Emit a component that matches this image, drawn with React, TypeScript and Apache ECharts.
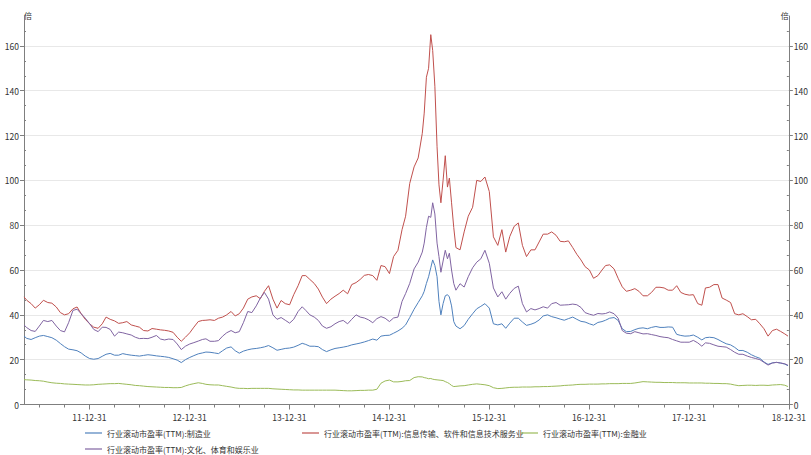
import React, { useEffect, useRef } from 'react';
import * as echarts from 'echarts';

// ---------- data ----------
const SERIES_NAMES = [
  '行业滚动市盈率(TTM):制造业',
  '行业滚动市盈率(TTM):信息传输、软件和信息技术服务业',
  '行业滚动市盈率(TTM):金融业',
  '行业滚动市盈率(TTM):文化、体育和娱乐业',
];
const COLORS = ['#4f81bd', '#c0504d', '#9bbb59', '#8064a2'];

const pad = (n: number) => (n < 10 ? '0' + n : '' + n);

// sampling dates: 1st & 16th of each month (weekly-ish in the May–Aug 2015 spike)
const DATES: string[] = [];
for (let y = 2011; y <= 2018; y++) {
  for (let m = y === 2011 ? 5 : 1; m <= 12; m++) {
    const days = y === 2015 && m >= 5 && m <= 8 ? [1, 8, 16, 24] : [1, 16];
    for (const d of days) {
      const dd = y === 2011 && m === 5 && d === 1 ? 6 : d;
      DATES.push(`${y}-${pad(m)}-${pad(dd)}`);
    }
  }
}
DATES.push('2018-12-28');

// 制造业
const MANUFACTURING = [
  30.5, 29.5, 29, 29.8, 30.5, 30.8, 30.3, 29.8, 28.7, 27.2, 25.8, 24.7, 24.4, 24, 23, 21.6,
  20.5, 20.2, 20.5, 21.5, 22.4, 22.8, 22, 22, 22.7, 22.3, 22, 21.8, 21.6, 21.9, 22.2, 22, 21.7, 21.5, 21.3, 21, 20.4, 19.8, 18.7, 20,
  21, 21.8, 22.6, 23, 23.4, 23.3, 23, 22.7, 24, 25.2, 25.7, 24, 22.9, 23.8, 24.4, 24.8, 25, 25.3, 25.7, 26.3, 25.3, 24.2, 24.6, 25,
  25.2, 25.6, 26.4, 27.3, 26.8, 26, 26, 25.8, 24.5, 23.6, 24.4, 25, 25.3, 25.6, 26, 26.6, 27, 27.4, 27.9, 28.5, 29.2, 28.7, 30.5, 30.8,
  30.9, 31.8, 32.8, 34, 35.5, 38.8, 42.5, 45.5, 48.5, 50.5, 54, 57, 61, 64.5, 62, 57, 46, 40, 45, 48.5, 49, 48, 44, 37, 35, 33.8, 35.2, 38, 40.5, 42.7, 43.8, 45,
  43, 36, 35.5, 36, 34, 36.3, 38.5, 38.5, 36.8, 35.3, 35.8, 36.5, 37.7, 39.5, 40, 39.2, 38.7, 38.1, 37.6, 38.3, 39, 38, 37.1, 36.8,
  36, 35.4, 36.6, 37, 37.6, 38.5, 38.8, 37.5, 33.8, 32.5, 32.6, 33.4, 34, 34.2, 33.8, 34.4, 34.8, 34.4, 34.4, 34.6, 34.5, 31.3, 30.8, 30.5,
  30.6, 31, 30, 28.8, 29.8, 30, 29.8, 29, 28, 27.1, 26.6, 25.5, 24.1, 24.1, 23.3, 22.2, 21.3, 20.6, 19, 17.9, 18.6, 18.8, 18.5, 18, 17.3,
];

// 信息传输、软件和信息技术服务业
const IT_SERVICES = [
  48, 46.5, 45, 43, 44.5, 46.5, 45.5, 45.2, 43.5, 41, 40, 40.5, 42.7, 43.5, 40.5, 38,
  36, 34.5, 34, 36, 39, 38, 37.3, 36.2, 36.5, 37, 35.5, 35, 34.5, 33, 32.8, 33.9, 33.6, 33.3, 33.1, 32.8, 32.2, 30, 28.2, 30,
  32, 34.5, 37, 37.5, 37.6, 37.8, 37.5, 38.5, 39, 40, 41.5, 39.5, 40.5, 43, 47, 48, 48.5, 47.2, 50.5, 53, 47, 43, 46.4, 45,
  44.5, 49, 53, 57.5, 57.5, 55.8, 54, 51.5, 47.9, 45, 47, 48.3, 49.5, 51, 49.4, 53.5, 54.4, 55.8, 57.6, 58, 57.5, 55.4, 62, 61.5,
  58.4, 66, 68.8, 78, 84, 98.6, 106, 110, 121, 130, 146, 150, 165, 158, 142, 115, 98, 90, 100, 111, 97, 101, 90, 79, 70, 69, 77, 84, 88, 100, 99.5, 101.5,
  95, 74.8, 71, 78, 68, 75, 79.5, 81, 71, 66, 69, 69, 72.5, 76, 76, 77, 75.5, 72.8, 72.6, 73, 70, 67, 64.5, 61.5,
  60, 56.3, 57.5, 60, 62, 62.3, 60.5, 56.3, 52.5, 50.5, 51, 51.7, 50.5, 48.5, 48.5, 50, 52.3, 52.3, 52, 51, 51, 53, 50, 49.2,
  48.8, 49, 45, 44.3, 52, 52.3, 53.5, 53.5, 47.5, 46.6, 45.5, 40.5, 40, 40.5, 39.2, 37.8, 38, 36, 33.8, 30.5, 33, 33.6, 32.6, 31.5, 30.5,
];

// 金融业
const FINANCE = [
  11.1, 11, 10.9, 10.7, 10.6, 10.4, 10, 9.7, 9.5, 9.4, 9.2, 9.1, 9, 8.9, 8.8, 8.7,
  8.7, 8.8, 9, 9.1, 9.2, 9.3, 9.3, 9.4, 9.2, 9, 8.8, 8.5, 8.4, 8.2, 8, 7.9, 7.8, 7.7, 7.6, 7.6, 7.5, 7.5, 7.6, 8.3,
  8.9, 9.3, 9.7, 9.4, 9, 8.8, 8.7, 8.7, 8.4, 8.1, 7.8, 7.4, 7.2, 7.2, 7.1, 7.2, 7.2, 7.2, 7.2, 7.2, 7, 6.9, 6.8, 6.7,
  6.6, 6.5, 6.5, 6.4, 6.4, 6.4, 6.4, 6.4, 6.4, 6.4, 6.4, 6.4, 6.3, 6.2, 6.1, 6.1, 6.2, 6.3, 6.3, 6.4, 6.4, 6.8, 9.5, 10.5,
  10.9, 10.1, 10.1, 10.3, 10.6, 10.7, 12, 12.4, 12.3, 12, 11.8, 11.5, 11.6, 11.3, 11.1, 11, 10.9, 10.8, 10.7, 10.2, 9.8, 9.3, 8.5, 8, 8.1, 8.3, 8.4, 8.7, 9, 9.2, 9, 8.8,
  8.4, 7.5, 7.1, 7.2, 7.4, 7.6, 7.7, 7.7, 7.8, 7.8, 7.8, 7.9, 7.9, 8, 8, 8.1, 8.2, 8.3, 8.5, 8.6, 8.7, 8.9, 9, 9,
  9.1, 9.1, 9.1, 9.2, 9.2, 9.3, 9.3, 9.3, 9.4, 9.4, 9.4, 9.6, 9.9, 10.2, 10.1, 10, 9.9, 9.9, 9.8, 9.8, 9.8, 9.7, 9.7, 9.7,
  9.6, 9.6, 9.6, 9.6, 9.5, 9.5, 9.4, 9.4, 9.3, 9.3, 9.1, 8.7, 8.4, 8.5, 8.6, 8.6, 8.5, 8.6, 8.6, 8.5, 8.7, 8.8, 8.9, 8.6, 8.0,
];

// 文化、体育和娱乐业
const CULTURE = [
  35.5, 34.3, 33, 32.6, 35, 37.5, 37, 37.5, 35, 33, 32.4, 36.5, 42, 42.5, 40.5, 38.5,
  36, 33.5, 32.5, 34.5, 34.4, 33.5, 30.5, 32.3, 32, 31.5, 31, 30, 29.4, 29.5, 29.4, 30, 30.8, 29.2, 28.8, 29.2, 29, 27, 24.5, 26,
  27, 27.6, 28.3, 29, 29.3, 28.2, 28.2, 28.5, 30.5, 32, 33, 32, 32.5, 36.5, 41.5, 41, 44, 47.5, 50, 47, 40, 38, 38.8, 37.6,
  36.3, 38, 41.5, 43.6, 42, 40, 39, 37.5, 35, 34, 34.7, 36, 37, 37.5, 36, 38, 40, 39, 38.6, 37.8, 36.5, 38.3, 39.2, 38.5,
  37, 38.6, 39, 46, 49.5, 54, 60.5, 63.5, 68, 72, 79, 84, 83.5, 90, 85, 72, 66, 59, 64, 68.8, 65, 67.5, 60, 54, 51, 53.9, 52.4, 57, 61, 63.5, 65, 68.8,
  63, 52, 48, 50.3, 47, 49.6, 51.8, 52.8, 45, 41.3, 42.8, 42.2, 42.8, 43.6, 43, 45, 45.5, 44.3, 44.4, 44.5, 44.8, 44.5, 43.3, 41,
  40.3, 39.8, 40.6, 40.4, 40.6, 41.3, 40.5, 38.5, 33, 31.8, 31.6, 32.5, 32, 31.5, 31.6, 31.2, 30.8, 30.3, 30, 29.8, 29, 28.4, 27.8, 27.8,
  27.8, 28.6, 27.5, 26, 27.5, 27.3, 26.6, 26, 25.8, 25.6, 24.5, 23.3, 22.4, 22.4, 21.6, 21, 20.5, 20, 18.8, 17.6, 18.5, 18.8, 18.5, 18.2, 17.5,
];

const SERIES_VALUES = [MANUFACTURING, IT_SERVICES, FINANCE, CULTURE];

const X_MIN_DATE = '2011-05-06';
const X_MAX_DATE = '2018-12-31';
const X_MAJOR_DATES = ['2011-12-31', '2012-12-31', '2013-12-31', '2014-12-31', '2015-12-31', '2016-12-31', '2017-12-31', '2018-12-31'];
const X_MINOR_DATES: string[] = ['2011-06-30', '2011-09-30'];
for (let y = 2012; y <= 2018; y++) X_MINOR_DATES.push(`${y}-03-31`, `${y}-06-30`, `${y}-09-30`);

const Y_MAX = 173.33;
const Y_TICKS = [0, 20, 40, 60, 80, 100, 120, 140, 160];
const Y_MINOR_TICKS: number[] = [];
for (let k = 1; k <= 26; k++) if (k % 3 !== 0) Y_MINOR_TICKS.push((k * 20) / 3);

// ---------- helpers ----------
const ts = (s: string) => Date.UTC(+s.slice(0, 4), +s.slice(5, 7) - 1, +s.slice(8, 10));
const fmtDate = (v: number) => {
  const d = new Date(v);
  return `${String(d.getUTCFullYear()).slice(2)}-${pad(d.getUTCMonth() + 1)}-${pad(d.getUTCDate())}`;
};

const FONT = '"Noto Sans CJK SC", "Noto Sans", sans-serif';
const AXIS_COLOR = '#7f7f7f';
const TEXT_COLOR = '#333333';

export default function App() {
  const ref = useRef<HTMLDivElement>(null);

  useEffect(() => {
    if (!ref.current) return;
    const chart = echarts.init(ref.current, undefined, { renderer: 'svg' });

    const xMin = ts(X_MIN_DATE);
    const xMax = ts(X_MAX_DATE);
    const majors = X_MAJOR_DATES.map(ts);
    const minors = X_MINOR_DATES.map(ts);

    const yMain = (pos: 'left' | 'right', withSplit: boolean) => ({
      type: 'value',
      position: pos,
      min: 0,
      max: Y_MAX,
      name: '倍',
      nameLocation: 'end',
      nameGap: 1,
      nameTextStyle: {
        fontSize: 8,
        color: TEXT_COLOR,
        fontFamily: FONT,
        align: pos === 'left' ? 'left' : 'right',
        verticalAlign: 'middle',
      },
      axisLine: { show: true, onZero: false, lineStyle: { color: AXIS_COLOR, width: 1 } },
      axisTick: { show: true, customValues: Y_TICKS, length: 4, lineStyle: { color: AXIS_COLOR } },
      axisLabel: {
        show: true,
        customValues: Y_TICKS,
        fontSize: 8.5,
        color: TEXT_COLOR,
        fontFamily: FONT,
        margin: 5,
        verticalAlign: 'middle',
      },
      splitLine: { show: withSplit, lineStyle: { color: '#e8e8e8', width: 1 } },
    });
    const yMinor = (pos: 'left' | 'right') => ({
      type: 'value',
      position: pos,
      min: 0,
      max: Y_MAX,
      axisLine: { show: false, onZero: false },
      axisTick: { show: true, inside: true, customValues: Y_MINOR_TICKS, length: 2, lineStyle: { color: AXIS_COLOR } },
      axisLabel: { show: false },
      splitLine: { show: false },
    });

    const legendBase = {
      orient: 'horizontal',
      icon: 'rect',
      itemWidth: 17,
      itemHeight: 1.2,
      selectedMode: false,
      padding: 0,
      textStyle: { fontSize: 8, color: TEXT_COLOR, fontFamily: FONT },
    };

    chart.setOption({
      animation: false,
      textStyle: { fontFamily: FONT },
      grid: { left: 24, right: 16, top: 16, bottom: 50.5, containLabel: false },
      legend: [
        { ...legendBase, data: [SERIES_NAMES[0]], left: 85, top: 429 },
        { ...legendBase, data: [SERIES_NAMES[1]], left: 302, top: 429 },
        { ...legendBase, data: [SERIES_NAMES[2]], left: 521, top: 429 },
        { ...legendBase, data: [SERIES_NAMES[3]], left: 85, top: 445 },
      ],
      xAxis: [
        {
          type: 'value',
          position: 'bottom',
          min: xMin,
          max: xMax,
          axisLine: { show: true, onZero: false, lineStyle: { color: AXIS_COLOR, width: 1 } },
          axisTick: { show: true, customValues: majors, length: 5, lineStyle: { color: AXIS_COLOR } },
          axisLabel: {
            show: true,
            customValues: majors,
            fontSize: 8.5,
            color: TEXT_COLOR,
            fontFamily: FONT,
            margin: 8,
            formatter: (v: number, i: number) => (i === 0 ? `{b|${fmtDate(v)}}` : fmtDate(v)),
            rich: { b: { fontWeight: 'bold', fontSize: 8.5, color: TEXT_COLOR, fontFamily: FONT } },
          },
          splitLine: { show: false },
        },
        {
          type: 'value',
          position: 'bottom',
          min: xMin,
          max: xMax,
          axisLine: { show: false, onZero: false },
          axisTick: { show: true, customValues: minors, length: 3, lineStyle: { color: AXIS_COLOR } },
          axisLabel: { show: false },
          splitLine: { show: false },
        },
      ],
      yAxis: [yMain('left', true), yMinor('left'), yMain('right', false), yMinor('right')],
      series: SERIES_NAMES.map((name, si) => ({
        name,
        type: 'line',
        xAxisIndex: 0,
        yAxisIndex: 0,
        showSymbol: false,
        symbol: 'none',
        silent: true,
        color: COLORS[si],
        lineStyle: { color: COLORS[si], width: 1 },
        emphasis: { disabled: true },
        data: DATES.map((d, i) => [ts(d), SERIES_VALUES[si][i]]),
      })),
    });

    return () => chart.dispose();
  }, []);

  return (
    <div
      ref={ref}
      style={{ position: 'fixed', left: 0, top: 0, width: 811, height: 455, background: '#ffffff' }}
    />
  );
}
